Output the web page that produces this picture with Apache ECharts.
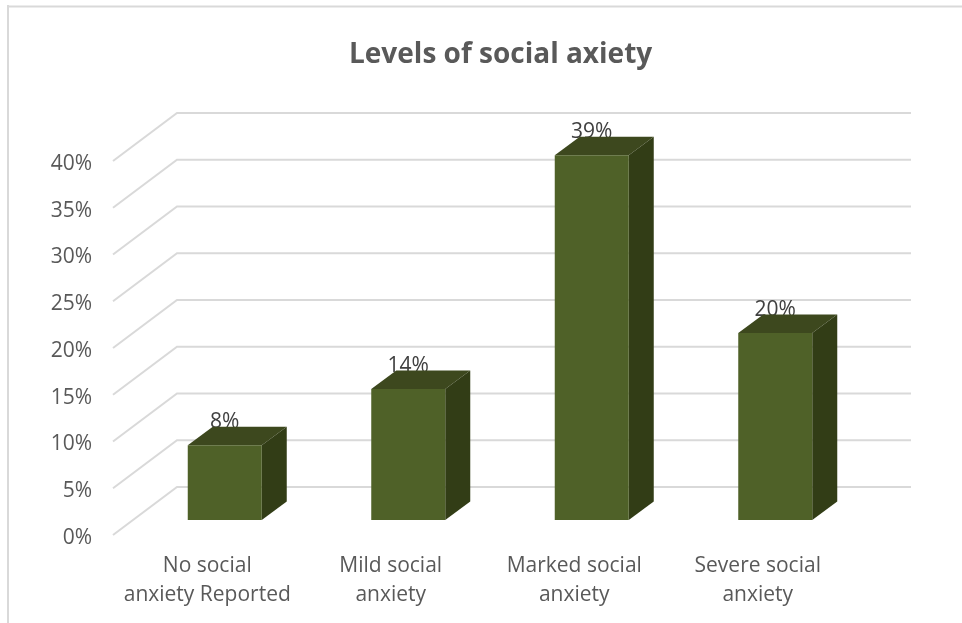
<!DOCTYPE html>
<html><head><meta charset="utf-8">
<style>html,body{margin:0;padding:0;background:#fff}#c{width:962px;height:623px}</style>
<script src="https://cdn.jsdelivr.net/npm/echarts@6/dist/echarts.min.js"></script>
</head><body><div id="c"></div>
<script>
const titleText = 'Levels of social axiety';
const categories = ['No social\nanxiety Reported', 'Mild social\nanxiety', 'Marked social\nanxiety', 'Severe social\nanxiety'];
const values = [8, 14, 39, 20];
const gridValues = [0, 5, 10, 15, 20, 25, 30, 35, 40];
const FONT = '"Open Sans", sans-serif';
const WALL_DX = 64, WALL_DY = 48, BAR_DX = 20, BAR_DY = 15, SIDE_DX = 25, SIDE_DY = 18.5, BAR_W = 74;

const chart = echarts.init(document.getElementById('c'), null, {renderer: 'canvas'});
chart.setOption({
  animation: false,
  backgroundColor: '#ffffff',
  title: {text: titleText, left: 344, top: 36, itemGap: 0,
    textStyle: {fontFamily: FONT, fontSize: 28, fontWeight: 'bold', color: '#595959'}},
  grid: {left: 113, right: 115, top: 161, bottom: 88},
  xAxis: {type: 'category', data: categories, axisLine: {show: false}, axisTick: {show: false},
    axisLabel: {color: '#595959', fontFamily: FONT, fontSize: 21, lineHeight: 29, margin: 17, interval: 0, padding: [0, 0, 0, 5]}},
  yAxis: {type: 'value', min: 0, max: 40, interval: 5, axisLine: {show: false}, axisTick: {show: false},
    splitLine: {show: false},
    axisLabel: {color: '#595959', fontFamily: FONT, fontSize: 21, margin: 21, verticalAlign: 'top', lineHeight: 6, formatter: '{value}%'}},
  graphic: [
    {type: 'line', shape: {x1: 8, y1: 5, x2: 8, y2: 623}, style: {stroke: '#d9d9d9', lineWidth: 2}},
    {type: 'line', shape: {x1: 8, y1: 6.5, x2: 962, y2: 6.5}, style: {stroke: '#d9d9d9', lineWidth: 2}}
  ],
  series: [
    {type: 'custom', z: 1, clip: false, silent: true,
      data: gridValues.map(v => [0, v]),
      renderItem(params, api) {
        const p = api.coord([0, api.value(1)]);
        const band = api.size([1, 0])[0];
        const x0 = p[0] - band / 2, y0 = p[1];
        return {type: 'polyline', shape: {points: [[x0, y0], [x0 + WALL_DX, y0 - WALL_DY], [x0 + WALL_DX + band * 4, y0 - WALL_DY]]},
          style: {stroke: '#d9d9d9', lineWidth: 2, fill: null}};
      }},
    {type: 'custom', z: 2, clip: false, silent: true,
      data: values.map((v, i) => [i, v]),
      renderItem(params, api) {
        const top = api.coord([api.value(0), api.value(1)]);
        const base = api.coord([api.value(0), 0]);
        const xl = top[0] + BAR_DX - BAR_W / 2, xr = xl + BAR_W;
        const yt = top[1] - BAR_DY, yb = base[1] - BAR_DY;
        const poly = (points, fill) => ({type: 'polygon', shape: {points}, style: {fill}});
        return {type: 'group', children: [
          {type: 'text', style: {text: api.value(1) + '%', x: top[0] + BAR_DX, y: yt - 23, align: 'center', verticalAlign: 'middle',
            fontFamily: FONT, fontSize: 21, fill: '#404040'}},
          poly([[xl, yt], [xl + SIDE_DX, yt - SIDE_DY], [xr + SIDE_DX, yt - SIDE_DY], [xr, yt]], '#3d481e'),
          poly([[xr, yt], [xr + SIDE_DX, yt - SIDE_DY], [xr + SIDE_DX, yb - SIDE_DY], [xr, yb]], '#323d16'),
          poly([[xl, yt], [xr, yt], [xr, yb], [xl, yb]], '#4f6128')
        ]};
      }}
  ]
});
</script></body></html>
